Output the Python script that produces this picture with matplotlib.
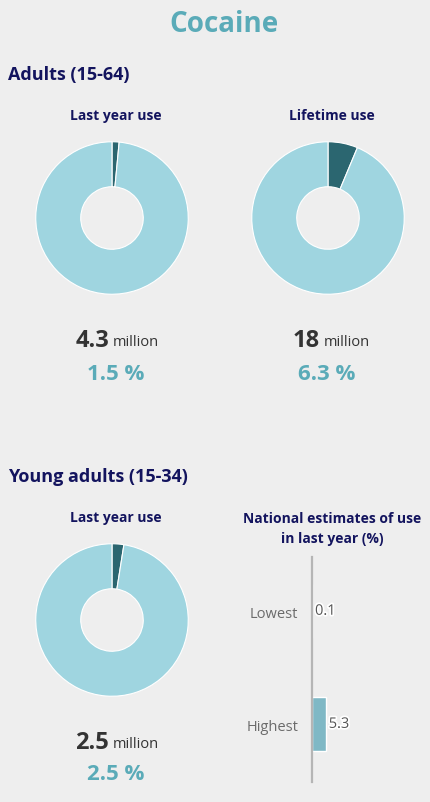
import matplotlib
matplotlib.use("Agg")
import matplotlib.pyplot as plt
import matplotlib.patheffects as pe

plt.rcParams['font.family'] = ['Open Sans', 'DejaVu Sans']

# data
donut_titles = ["Last year use", "Lifetime use", "Last year use"]
donut_pct = [1.5, 6.3, 2.5]
donut_millions = ["4.3", "18", "2.5"]
nat_labels = ["Lowest", "Highest"]
nat_values = [0.1, 5.3]

BG = "#eeeeee"
LIGHT = "#9fd5e0"
DARK = "#2b6670"
TEAL = "#5aabb8"
NAVY = "#13145e"
GREY_TXT = "#333333"

W, H = 430, 803
fig = plt.figure(figsize=(W / 100, H / 100), dpi=100, facecolor=BG)


def fx(x):
    return x / W


def fy(y):
    return 1 - y / H


def donut(cx, cy, pct):
    r = 77
    ax = fig.add_axes([fx(cx - r), fy(cy + r), 2 * r / W, 2 * r / H])
    ax.pie([pct, 100 - pct], colors=[DARK, LIGHT], startangle=90, counterclock=False,
           radius=1, wedgeprops=dict(width=0.59, edgecolor="white", linewidth=0.8))
    ax.set_xlim(-1.01, 1.01)
    ax.set_ylim(-1.01, 1.01)
    ax.set_aspect("equal")
    ax.axis("off")


def numbers(split, y_num, y_pct, mil, pct):
    fig.text(fx(split), fy(y_num), mil, ha="right", va="center", fontsize=17,
             fontweight="bold", color=GREY_TXT)
    fig.text(fx(split + 4), fy(y_num + 2), "million", ha="left", va="center",
             fontsize=10.5, color=GREY_TXT)
    fig.text(fx(split + 7), fy(y_pct), f"{pct} %", ha="center", va="center",
             fontsize=16, fontweight="bold", color=TEAL)


# titles
fig.text(fx(224), fy(25), "Cocaine", ha="center", va="center", fontsize=20,
         fontweight="bold", color=TEAL)
fig.text(fx(8), fy(75), "Adults (15-64)", ha="left", va="center", fontsize=13,
         fontweight="bold", color=NAVY)
fig.text(fx(8), fy(477), "Young adults (15-34)", ha="left", va="center", fontsize=13,
         fontweight="bold", color=NAVY)

fig.text(fx(116), fy(116), donut_titles[0], ha="center", va="center", fontsize=10,
         fontweight="bold", color=NAVY)
fig.text(fx(332), fy(116), donut_titles[1], ha="center", va="center", fontsize=10,
         fontweight="bold", color=NAVY)
fig.text(fx(116), fy(518), donut_titles[2], ha="center", va="center", fontsize=10,
         fontweight="bold", color=NAVY)
fig.text(fx(332), fy(529), "National estimates of use\nin last year (%)", ha="center",
         va="center", fontsize=10, fontweight="bold", color=NAVY, linespacing=1.6)

donut(112, 219, donut_pct[0])
donut(328, 219, donut_pct[1])
donut(112, 621, donut_pct[2])

numbers(109, 341, 375, donut_millions[0], donut_pct[0])
numbers(320, 341, 375, donut_millions[1], donut_pct[1])
numbers(109, 743, 775, donut_millions[2], donut_pct[2])

# national estimates bar chart
bx = fig.add_axes([fx(312), fy(783), 108 / W, 225 / H])
bx.set_facecolor(BG)
bars = bx.barh(range(len(nat_values)), nat_values, height=0.48, color="#7fb8c5",
               edgecolor="white", linewidth=1)
bx.set_xlim(0, 41)
bx.set_ylim(1.51, -0.48)
bx.set_yticks(range(len(nat_labels)))
bx.set_yticklabels(nat_labels, fontsize=10.5, color="#6b6b6b")
bx.tick_params(axis="y", length=0, pad=10)
bx.set_xticks([])
for s in ["top", "right", "bottom"]:
    bx.spines[s].set_visible(False)
bx.spines["left"].set_color("#b5b5b5")
bx.spines["left"].set_linewidth(1.6)
labels = bx.bar_label(bars, labels=[f"{v}" for v in nat_values], padding=2,
                      fontsize=10.5, color="#555555")
for t in labels:
    t.set_path_effects([pe.withStroke(linewidth=2.5, foreground="white")])

fig.savefig("out.png", dpi=100, facecolor=BG)
